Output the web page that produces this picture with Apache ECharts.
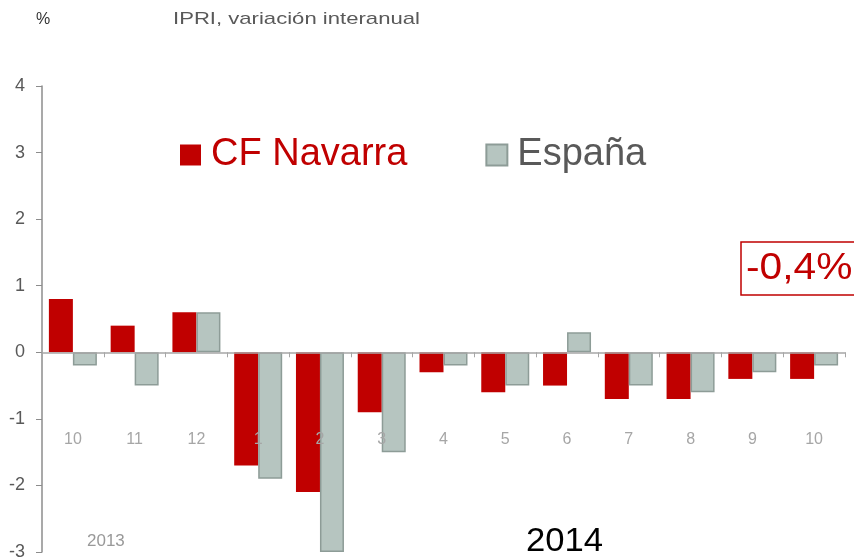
<!DOCTYPE html>
<html><head><meta charset="utf-8">
<script src="https://cdn.jsdelivr.net/npm/echarts@6/dist/echarts.min.js"></script>
<style>html,body{margin:0;padding:0;background:#fff}#c{width:854px;height:558px}</style>
</head><body><div id="c"></div>
<script>
const categories = ['10','11','12','1','2','3','4','5','6','7','8','9','10'];
const navarra = [0.8, 0.4, 0.6, -1.7, -2.1, -0.9, -0.3, -0.6, -0.5, -0.7, -0.7, -0.4, -0.4];
const espana = [-0.2, -0.5, 0.6, -1.9, -3.0, -1.5, -0.2, -0.5, 0.3, -0.5, -0.6, -0.3, -0.2];
const yTicks = [-3, -2, -1, 0, 1, 2, 3, 4];
const FONT = '"Liberation Sans", Arial, sans-serif';
const chart = echarts.init(document.getElementById('c'));
chart.setOption({
  backgroundColor: '#fff',
  animation: false,
  textStyle: { fontFamily: FONT },
  grid: { left: 42, right: 9, top: 86, bottom: 6, containLabel: false, outerBoundsMode: 'none' },
  legend: {
    left: 180, top: 136, padding: 0, itemWidth: 21, itemHeight: 21, itemGap: 78,
    icon: 'rect',
    data: [
      { name: 'CF Navarra', textStyle: { color: '#C00000' } },
      { name: 'España', textStyle: { color: '#595959' } }
    ],
    textStyle: { fontSize: 38, fontFamily: FONT, padding: [0, 0, 0, 5] }
  },
  xAxis: {
    type: 'category', data: categories, z: 5,
    axisLine: { onZero: true, lineStyle: { color: '#a6a6a6', width: 1.5 } },
    axisTick: { show: true, length: 5, lineStyle: { color: '#a6a6a6' } },
    axisLabel: { color: '#a6a6a6', fontSize: 16, margin: -120, fontFamily: FONT },
    splitLine: { show: false }
  },
  yAxis: {
    type: 'value', min: yTicks[0], max: yTicks[yTicks.length - 1], interval: 1,
    axisLine: { show: true, lineStyle: { color: '#8c8c8c', width: 1.5 } },
    axisTick: { show: true, length: 6, lineStyle: { color: '#8c8c8c' } },
    axisLabel: { color: '#595959', fontSize: 18, margin: 17, fontFamily: FONT },
    splitLine: { show: false }
  },
  series: [
    { name: 'CF Navarra', type: 'bar', data: navarra, barWidth: 24, barGap: '0%',
      itemStyle: { color: '#C00000' } },
    { name: 'España', type: 'bar', data: espana, barWidth: 24,
      itemStyle: { color: '#B6C5C0', borderColor: '#8D9C97', borderWidth: 1.5 } }
  ],
  graphic: [
    { type: 'text', x: 36, y: 12, style: { text: '%', fontSize: 16, fill: '#333', fontFamily: FONT } },
    { type: 'text', x: 173, y: 11, scaleX: 1.3, style: { text: 'IPRI, variación interanual', fontSize: 17, fill: '#595959', fontFamily: FONT } },
    { type: 'rect', shape: { x: 741, y: 242, width: 120, height: 53 }, style: { fill: '#fff', stroke: '#C00000', lineWidth: 1.5 } },
    { type: 'text', x: 746, y: 250, scaleX: 1.1, style: { text: '-0,4%', fontSize: 37, fill: '#C00000', fontFamily: FONT } },
    { type: 'text', x: 87, y: 533, style: { text: '2013', fontSize: 17, fill: '#999', fontFamily: FONT } },
    { type: 'text', x: 526, y: 525, scaleX: 1.05, style: { text: '2014', fontSize: 33, fill: '#000', fontFamily: FONT } }
  ]
});
</script></body></html>
